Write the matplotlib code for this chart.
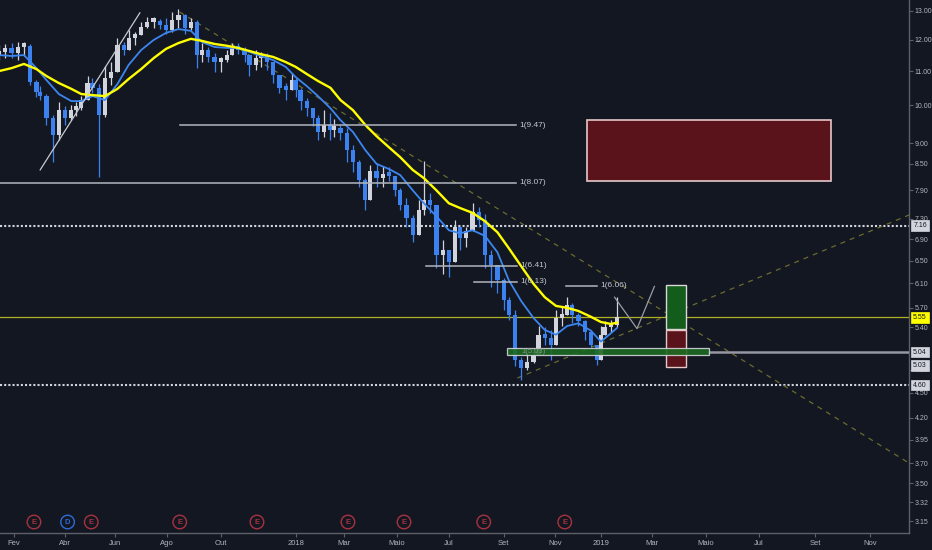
import numpy as np
import pandas as pd
import matplotlib
matplotlib.use("Agg")
import matplotlib.pyplot as plt
from matplotlib.patches import Rectangle
from matplotlib.transforms import blended_transform_factory
from matplotlib.ticker import FixedLocator, FixedFormatter, NullLocator

plt.rcParams['font.family'] = ['Liberation Sans', 'DejaVu Sans']

# ---------------- data (weekly bars) ----------------
week_start = pd.date_range('2017-01-16', periods=106, freq='W-MON')

opens = [11.50, 11.60, 11.73, 11.56, 11.76, 11.80, 10.67, 10.38, 10.26, 9.65,
         9.21, 9.87, 9.65, 9.87, 9.92, 10.15, 10.64, 10.50, 9.74, 10.79,
         10.97, 11.83, 11.66, 12.06, 12.16, 12.43, 12.61, 12.61, 12.50, 12.33,
         12.68, 12.86, 12.40, 12.61, 11.50, 11.66, 11.44, 11.28, 11.34, 11.50,
         11.73, 11.66, 11.50, 11.19, 11.41, 11.50, 11.28, 10.88, 10.50, 10.44,
         10.73, 10.44, 10.12, 9.92, 9.65, 9.29, 9.47, 9.34, 9.39, 9.26,
         8.83, 8.54, 8.13, 7.69, 8.33, 8.17, 8.24, 8.22, 7.90, 7.58,
         7.31, 6.98, 7.48, 7.69, 7.58, 6.60, 6.69, 6.47, 7.13, 6.92,
         7.05, 7.44, 7.27, 6.60, 6.42, 6.16, 5.82, 5.59, 4.93, 4.82,
         4.90, 5.00, 5.29, 5.24, 5.14, 5.54, 5.59, 5.74, 5.59, 5.50,
         5.33, 5.14, 4.93, 5.29, 5.40, 5.44]
highs = [11.83, 11.86, 11.89, 11.92, 11.92, 11.86, 10.73, 10.55, 10.32, 9.74,
         10.09, 9.98, 10.01, 10.09, 10.26, 10.85, 10.79, 10.61, 11.16, 11.27,
         12.05, 11.92, 12.33, 12.26, 12.61, 12.79, 12.79, 12.72, 12.75, 12.97,
         13.08, 12.90, 12.75, 12.68, 11.89, 11.76, 11.56, 11.44, 11.66, 11.89,
         11.89, 11.76, 11.50, 11.66, 11.60, 11.56, 11.28, 10.88, 10.64, 10.94,
         10.79, 10.50, 10.21, 9.92, 9.74, 9.87, 9.79, 9.63, 9.47, 9.39,
         8.96, 8.59, 8.17, 8.47, 8.52, 8.45, 8.43, 8.22, 7.94, 7.73,
         7.37, 7.69, 8.56, 7.83, 7.58, 6.88, 6.69, 7.27, 7.15, 7.13,
         7.62, 7.54, 7.40, 6.69, 6.42, 6.19, 5.87, 5.67, 4.97, 5.03,
         5.10, 5.42, 5.40, 5.36, 5.67, 5.72, 5.88, 5.77, 5.62, 5.51,
         5.33, 5.14, 5.42, 5.50, 5.51, 5.88]
lows = [11.34, 11.40, 11.40, 11.34, 11.47, 10.58, 10.24, 10.15, 9.47, 8.54,
        9.08, 9.47, 9.60, 9.71, 9.87, 10.15, 10.35, 8.20, 9.69, 10.58,
        10.97, 11.50, 11.66, 11.83, 12.16, 12.40, 12.40, 12.36, 12.19, 12.26,
        12.40, 12.19, 12.33, 11.09, 11.28, 11.28, 10.97, 10.97, 11.28, 11.50,
        11.53, 11.28, 10.85, 11.03, 11.13, 11.03, 10.64, 10.35, 10.15, 10.44,
        10.24, 9.87, 9.71, 9.44, 9.08, 9.16, 9.08, 9.16, 9.08, 8.54,
        8.31, 7.97, 7.48, 7.69, 7.97, 7.97, 8.10, 7.77, 7.48, 7.13,
        6.85, 6.98, 7.37, 7.42, 6.37, 6.26, 6.21, 6.47, 6.69, 6.75,
        7.05, 7.13, 6.37, 6.04, 5.94, 5.67, 5.51, 4.85, 4.66, 4.80,
        4.89, 5.00, 5.14, 4.93, 5.14, 5.42, 5.59, 5.46, 5.42, 5.21,
        5.11, 4.86, 4.93, 5.29, 5.33, 5.40]
closes = [11.60, 11.73, 11.56, 11.76, 11.80, 10.67, 10.38, 10.26, 9.65, 9.21,
          9.87, 9.65, 9.87, 9.92, 10.15, 10.64, 10.50, 9.74, 10.79, 10.97,
          11.83, 11.66, 12.06, 12.16, 12.43, 12.61, 12.61, 12.50, 12.33, 12.68,
          12.86, 12.40, 12.61, 11.50, 11.66, 11.44, 11.28, 11.34, 11.50, 11.73,
          11.66, 11.50, 11.19, 11.41, 11.50, 11.28, 10.88, 10.50, 10.44, 10.73,
          10.44, 10.12, 9.92, 9.65, 9.29, 9.47, 9.34, 9.39, 9.26, 8.83,
          8.54, 8.13, 7.69, 8.33, 8.17, 8.24, 8.22, 7.90, 7.58, 7.31,
          6.98, 7.48, 7.69, 7.58, 6.60, 6.69, 6.47, 7.13, 6.92, 7.05,
          7.44, 7.27, 6.60, 6.42, 6.16, 5.82, 5.59, 4.93, 4.82, 4.90,
          5.00, 5.29, 5.24, 5.14, 5.54, 5.59, 5.74, 5.59, 5.50, 5.33,
          5.14, 4.93, 5.29, 5.40, 5.44, 5.55]

# moving averages, read every second week (plus the last bar)
ma_weeks = list(range(0, 106, 2)) + [105]
ma_yellow = [11.00, 11.09, 11.22, 11.06, 10.85, 10.64, 10.47, 10.32, 10.29, 10.26,
             10.47, 10.76, 11.06, 11.40, 11.70, 11.89, 12.03, 11.96, 11.86, 11.80,
             11.73, 11.63, 11.53, 11.44, 11.28, 11.13, 10.91, 10.70, 10.50, 10.15,
             9.87, 9.47, 9.18, 8.90, 8.66, 8.36, 8.17, 7.90, 7.62, 7.52,
             7.42, 7.25, 7.03, 6.73, 6.40, 6.09, 5.87, 5.73, 5.70, 5.65,
             5.56, 5.48, 5.45, 5.47]
ma_blue = [11.50, 11.47, 11.50, 11.09, 10.73, 10.32, 10.12, 10.12, 10.26, 10.15,
           10.61, 11.19, 11.66, 11.99, 12.23, 12.36, 12.30, 11.92, 11.76, 11.73,
           11.73, 11.60, 11.47, 11.34, 11.13, 10.82, 10.55, 10.26, 9.92, 9.60,
           9.29, 8.83, 8.50, 8.38, 8.24, 7.90, 7.62, 7.35, 7.07, 7.01,
           7.07, 6.96, 6.65, 6.16, 5.81, 5.54, 5.36, 5.29, 5.42, 5.46,
           5.35, 5.19, 5.31, 5.39]

# B3 holidays (skipped on the time axis)
holidays = ['2017-02-27', '2017-02-28', '2017-04-14', '2017-04-21', '2017-05-01',
            '2017-06-15', '2017-09-07', '2017-10-12', '2017-11-02', '2017-11-15',
            '2017-12-25', '2017-12-29', '2018-01-01', '2018-01-25', '2018-02-12',
            '2018-02-13', '2018-03-30', '2018-05-01', '2018-05-31', '2018-07-09',
            '2018-09-07', '2018-10-12', '2018-11-02', '2018-11-15', '2018-11-20',
            '2018-12-24', '2018-12-25', '2018-12-31', '2019-01-01', '2019-01-25']

x_tick_dates = ['2017-02-01', '2017-04-03', '2017-06-01', '2017-08-01', '2017-10-02',
                '2018-01-02', '2018-03-01', '2018-05-02', '2018-07-02', '2018-09-03',
                '2018-11-01', '2019-01-02', '2019-03-01', '2019-05-01', '2019-07-01',
                '2019-09-02', '2019-11-01']
x_tick_labels = ['Fev', 'Abr', 'Jun', 'Ago', 'Out', '2018', 'Mar', 'Maio', 'Jul', 'Set',
                 'Nov', '2019', 'Mar', 'Maio', 'Jul', 'Set', 'Nov']
y_ticks = [13.00, 12.00, 11.00, 10.00, 9.00, 8.50, 7.90, 7.30, 6.90, 6.50, 6.10,
           5.70, 5.40, 4.80, 4.50, 4.20, 3.95, 3.70, 3.50, 3.32, 3.15]

# horizontal level rays: (start, end, price, label)
levels = [('2017-08-15', '2018-09-18', 9.47, '1(9.47)'),
          ('2016-12-01', '2018-09-18', 8.07, '1(8.07)'),
          ('2018-06-06', '2018-09-19', 6.41, '1(6.41)'),
          ('2018-07-31', '2018-09-19', 6.13, '1(6.13)'),
          ('2018-11-16', '2018-12-26', 6.06, '1(6.06)')]

events = [('2017-02-23', 'E'), ('2017-04-05', 'D'), ('2017-05-05', 'E'),
          ('2017-08-15', 'E'), ('2017-11-14', 'E'), ('2018-03-06', 'E'),
          ('2018-05-10', 'E'), ('2018-08-10', 'E'), ('2018-11-14', 'E')]

price_tags = [(7.16, '7.16', '#d1d4dc', 0), (5.55, '5.55', '#ffff00', 0),
              (5.04, '5.04', '#d1d4dc', 0), (5.03, '5.03', '#d1d4dc', -9),
              (4.60, '4.60', '#d1d4dc', 0)]

# ---------------- helpers ----------------
ORIGIN = np.datetime64('2017-02-01')
HOL = np.array(holidays, dtype='datetime64[D]')


def tx(dates):
    d = np.array(pd.to_datetime(pd.Index(np.atleast_1d(dates))).values, dtype='datetime64[D]')
    return np.busday_count(ORIGIN, d, holidays=HOL).astype(float)


def t1(date):
    return tx([date])[0]


BG = '#131722'
TXT = '#b2b5be'
AXC = '#5d606b'
UP = '#d1d4dc'
DOWN = '#3b82f0'

fig = plt.figure(figsize=(9.32, 5.5), dpi=100, facecolor=BG)
ax = fig.add_axes([0, 17 / 550, 909 / 932, 533 / 550], facecolor=BG)
ax.set_yscale('log')
PX = 1.246
ax.set_xlim(-14 / PX, (909 - 14) / PX)
ax.set_ylim(3.05, 13.40)

# ---------------- candles ----------------
o = np.array(opens); h = np.array(highs); l = np.array(lows); c = np.array(closes)
xw = tx(week_start)
cols = np.where(c >= o, UP, DOWN)
ax.vlines(xw, l, h, colors=cols, lw=0.9, zorder=3)
body = np.maximum(np.abs(c - o), 0.012 * c)
ax.bar(xw, body, bottom=np.minimum(o, c), width=3.4, color=cols, linewidth=0, zorder=3)

# moving averages
xm = tx(week_start[ma_weeks])
ax.plot(xm, ma_blue, color='#3d86f0', lw=1.3, zorder=4, solid_joinstyle='round')
ax.plot(xm, ma_yellow, color='#ffff00', lw=1.7, zorder=4, solid_joinstyle='round')

# ---------------- drawings ----------------
ax.axhline(7.16, color='#d1d4dc', lw=1.5, ls=(0, (1, 1)), zorder=2)
ax.axhline(4.60, color='#d1d4dc', lw=1.5, ls=(0, (1, 1)), zorder=2)
ax.axhline(5.55, color='#b0b024', lw=0.9, zorder=2)

for s, e, p, lab in levels:
    ax.plot([t1(s), t1(e)], [p, p], color='#b2b5be', lw=1.1, zorder=5)
    ax.annotate(lab, xy=(t1(e), p), xytext=(2, 0), textcoords='offset points',
                va='center', ha='left', color='#c3c6cd', fontsize=6, zorder=6)

# trend lines
ax.plot([t1('2017-03-06'), t1('2017-06-30')], [8.36, 12.93], color='#c8cad0', lw=0.9, zorder=5)
ax.plot([t1('2017-08-15'), t1('2019-12-31')], [12.96, 3.62], color='#6b6b2e', lw=0.9,
        ls=(0, (4, 4)), zorder=2)
ax.plot([t1('2018-09-19'), t1('2019-12-31')], [4.69, 7.49], color='#6b6b2e', lw=0.9,
        ls=(0, (4, 4)), zorder=2)
# projected path
ax.plot([t1('2019-01-17'), t1('2019-02-13'), t1('2019-03-05')], [5.87, 5.38, 6.05],
        color='#9a9da5', lw=0.9, zorder=5)

# support zone + ray
zs, ze = t1('2018-09-06'), t1('2019-05-06')
ax.add_patch(Rectangle((zs, 5.00), ze - zs, 5.10 - 5.00, facecolor='#1d6b22',
                       edgecolor='#d1d4dc', lw=0.9, alpha=0.9, zorder=6))
ax.plot([ze, t1('2019-12-31')], [5.04, 5.04], color='#9598a1', lw=1.8, zorder=5)
ax.text(t1('2018-09-24'), 5.05, '1(5.03)', color='#9aa0a6', fontsize=5.5, va='center',
        ha='left', zorder=7, alpha=0.8)

# target box
rs, re_ = t1('2018-12-12'), t1('2019-09-19')
ax.add_patch(Rectangle((rs, 8.11), re_ - rs, 9.60 - 8.11, facecolor='#5a131b',
                       edgecolor='#e6c8c8', lw=1.2, zorder=5))
# long position tool
ps, pe = t1('2019-03-18'), t1('2019-04-09')
ax.add_patch(Rectangle((ps, 5.38), pe - ps, 6.07 - 5.38, facecolor='#135c1c',
                       edgecolor='#d8d8d8', lw=1.0, zorder=5))
ax.add_patch(Rectangle((ps, 4.84), pe - ps, 5.36 - 4.84, facecolor='#5a131b',
                       edgecolor='#e6c8c8', lw=1.0, zorder=5))

# events
btr = blended_transform_factory(ax.transData, ax.transAxes)
for d, kind in events:
    col = '#2f6bd8' if kind == 'D' else '#a8323f'
    ax.scatter([t1(d)], [0.0206], s=95, marker='o', facecolors='none', edgecolors=col,
               linewidths=1.0, transform=btr, zorder=6, clip_on=False)
    ax.text(t1(d), 0.0206, kind, color=col, fontsize=5.5, ha='center', va='center',
            transform=btr, zorder=7, fontweight='bold')

# ---------------- axes styling ----------------
for sp in ['top', 'left']:
    ax.spines[sp].set_visible(False)
for sp in ['right', 'bottom']:
    ax.spines[sp].set_color(AXC)
    ax.spines[sp].set_linewidth(1.0)

ax.yaxis.tick_right()
ax.yaxis.set_major_locator(FixedLocator(y_ticks))
ax.yaxis.set_major_formatter(FixedFormatter(['%.2f' % v for v in y_ticks]))
ax.yaxis.set_minor_locator(NullLocator())
ax.tick_params(axis='y', which='major', length=3, color=AXC, labelcolor=TXT,
               labelsize=5.0, pad=1.0)
ax.xaxis.set_major_locator(FixedLocator(tx(x_tick_dates)))
ax.xaxis.set_major_formatter(FixedFormatter(x_tick_labels))
ax.xaxis.set_minor_locator(NullLocator())
ax.tick_params(axis='x', which='major', length=3, color=AXC, labelcolor=TXT,
               labelsize=5.5, pad=2)

ytr = blended_transform_factory(ax.transAxes, ax.transData)
for p, lab, fc, dy in price_tags:
    ax.annotate(lab, xy=(1.0, p), xycoords=ytr, xytext=(3, dy), textcoords='offset points',
                ha='left', va='center', fontsize=5.0, color='#131722',
                bbox=dict(boxstyle='square,pad=0.25', fc=fc, ec=fc, lw=0.5),
                zorder=10, annotation_clip=False)

fig.savefig('out.png', dpi=100, facecolor=BG)
